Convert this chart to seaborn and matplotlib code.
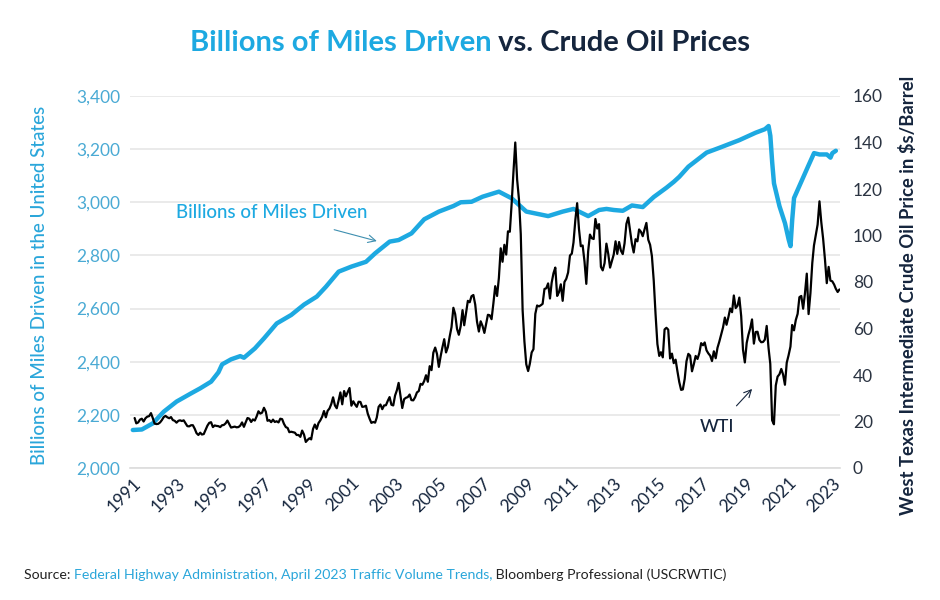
import pandas as pd
import matplotlib.pyplot as plt
import seaborn as sns

# WTI crude, month-end price ($/barrel), Jan 1991 - Apr 2023
wti_1990s = [
    21.5, 19.2, 19.6, 20.8, 21.2, 20.0, 21.4, 22.1, 22.3, 23.6, 21.5, 19.1,
    18.9, 19.0, 19.6, 20.6, 21.9, 22.4, 21.8, 21.4, 21.9, 20.6, 20.3, 19.5,
    20.3, 20.5, 20.2, 20.5, 19.2, 18.0, 17.9, 18.4, 18.4, 16.9, 15.0, 14.2,
    15.2, 14.4, 14.6, 16.4, 18.2, 19.4, 19.7, 17.6, 18.3, 18.1, 18.0, 17.6,
    18.4, 18.5, 19.2, 20.4, 18.9, 17.4, 17.6, 17.8, 17.5, 17.6, 18.2, 19.6,
    17.7, 19.6, 21.5, 21.2, 19.8, 20.9, 20.4, 22.2, 24.4, 23.4, 23.8, 25.9,
    24.2, 20.3, 20.6, 19.7, 20.8, 19.8, 20.1, 19.6, 21.2, 21.0, 19.0, 17.6,
    17.2, 15.4, 15.6, 15.4, 15.2, 14.2, 14.2, 13.4, 16.1, 14.4, 11.2, 12.1,
    12.8, 12.3, 16.8, 18.7, 16.8, 19.3, 20.5, 22.1, 24.5, 21.8, 24.6, 25.6,
]
wti_2000s = [
    27.6, 30.4, 26.9, 25.7, 29.0, 32.5, 27.4, 33.1, 30.8, 32.7, 34.4, 26.8,
    28.7, 27.4, 26.3, 28.5, 28.4, 26.3, 26.4, 26.8, 23.4, 21.2, 19.4, 19.8,
    19.5, 21.7, 26.3, 27.3, 25.3, 26.9, 27.0, 28.9, 30.5, 27.2, 26.9, 31.2,
    33.5, 36.6, 31.0, 25.8, 29.6, 30.2, 30.5, 31.6, 29.2, 29.1, 30.4, 32.5,
    33.1, 36.2, 35.8, 37.4, 39.9, 37.1, 43.8, 42.1, 49.6, 51.8, 49.1, 43.5,
    48.2, 51.8, 55.4, 49.7, 52.0, 56.5, 60.6, 68.9, 66.2, 59.8, 57.3, 61.0,
    67.9, 61.4, 66.6, 71.9, 71.3, 73.9, 74.4, 70.3, 62.9, 58.7, 63.1, 61.1,
    58.1, 61.8, 65.9, 65.7, 64.0, 70.7, 78.2, 74.0, 81.7, 94.5, 88.7, 96.0,
    91.8, 101.8, 101.6, 113.5, 127.4, 140.0, 124.1, 115.5, 100.6, 67.8, 54.4, 44.6,
    41.7, 44.8, 49.7, 51.1, 66.3, 69.9, 69.5, 70.0, 70.6, 77.0, 77.3, 79.4,
]
wti_2010s = [
    72.9, 79.7, 83.8, 86.2, 74.0, 75.6, 79.0, 71.9, 80.0, 81.4, 84.1, 91.4,
    92.2, 97.0, 106.7, 113.9, 102.7, 95.4, 95.7, 88.8, 79.2, 93.2, 100.4, 98.8,
    98.5, 107.1, 103.0, 104.9, 86.5, 85.0, 88.1, 96.5, 92.2, 86.2, 88.9, 91.8,
    97.5, 92.1, 97.2, 93.5, 92.0, 96.6, 105.0, 107.7, 102.3, 96.4, 92.7, 98.4,
    97.5, 102.6, 101.6, 99.7, 102.7, 105.4, 98.2, 96.0, 91.2, 80.5, 66.2, 53.3,
    48.2, 49.8, 47.6, 59.6, 60.3, 59.5, 47.1, 49.2, 45.1, 46.6, 41.7, 37.0,
    33.6, 33.8, 38.3, 45.9, 49.1, 48.3, 41.6, 44.7, 48.2, 46.9, 49.4, 53.7,
    52.8, 54.0, 50.6, 49.3, 48.3, 46.0, 50.2, 47.2, 51.7, 54.4, 57.4, 60.4,
    64.7, 61.6, 64.9, 68.6, 67.0, 74.2, 68.8, 69.8, 73.3, 65.3, 50.9, 45.4,
    53.8, 57.2, 60.1, 63.9, 53.5, 58.5, 58.6, 55.1, 54.1, 54.2, 55.2, 61.1,
]
wti_2020s = [
    51.6, 44.8, 20.5, 18.8, 35.5, 39.3, 40.3, 42.6, 40.2, 35.8, 45.3, 48.5,
    52.2, 61.5, 59.2, 63.6, 66.3, 73.5, 74.0, 68.5, 75.0, 83.6, 66.2, 75.2,
    88.2, 95.7, 100.3, 104.7, 114.7, 105.8, 98.6, 89.6, 79.5, 86.5, 80.6, 80.3,
    78.9, 77.1, 75.7, 76.8,
]

# Moving 12-month total of vehicle miles travelled (billions)
vmt_dates = [
    '1991-01', '1991-06', '1991-12', '1992-06', '1993-01', '1993-09', '1994-02',
    '1994-08', '1994-12', '1995-02', '1995-07', '1995-12', '1996-02', '1996-08',
    '1997-01', '1997-08', '1998-04', '1998-11', '1999-06', '1999-11', '2000-06',
    '2001-01', '2001-09', '2002-02', '2002-10', '2003-03', '2003-10', '2004-05',
    '2005-01', '2005-09', '2006-01', '2006-07', '2007-01', '2007-10', '2008-05',
    '2009-01', '2009-06', '2010-01', '2010-09', '2011-03', '2011-11', '2012-05',
    '2012-09', '2013-01', '2013-06', '2013-11', '2014-05', '2014-11', '2015-06',
    '2015-10', '2016-01', '2016-06', '2016-09', '2017-04', '2017-11', '2018-10',
    '2019-07', '2019-12', '2020-02', '2020-03', '2020-04', '2020-05', '2020-08',
    '2020-11', '2021-01', '2021-02', '2021-03', '2021-04', '2021-08', '2021-12',
    '2022-03', '2022-06', '2022-10', '2022-12', '2023-01', '2023-03',
]
vmt_values = [
    2143, 2145, 2168, 2212, 2250, 2281, 2300,
    2325, 2360, 2390, 2409, 2421, 2415, 2450,
    2488, 2544, 2576, 2615, 2645, 2682, 2739,
    2758, 2776, 2808, 2852, 2858, 2883, 2936,
    2965, 2986, 3000, 3002, 3021, 3040, 3015,
    2965, 2958, 2948, 2965, 2975, 2948, 2971,
    2975, 2971, 2968, 2988, 2982, 3020, 3055,
    3077, 3096, 3134, 3150, 3187, 3205, 3234,
    3262, 3275, 3287, 3250, 3150, 3071, 2985,
    2921, 2860, 2835, 2933, 3016, 3078, 3140,
    3185, 3180, 3180, 3168, 3185, 3194,
]

left_ticks = [2000, 2200, 2400, 2600, 2800, 3000, 3200, 3400]
right_ticks = [0, 20, 40, 60, 80, 100, 120, 140, 160]
year_ticks = list(range(1991, 2024, 2))

BLUE = '#1DA9E1'
NAVY = '#15253D'

wti_values = wti_1990s + wti_2000s + wti_2010s + wti_2020s
wti = pd.DataFrame({
    'date': pd.date_range('1991-01-31', periods=len(wti_values), freq='ME'),
    'price': wti_values,
})
vmt = pd.DataFrame({'date': pd.to_datetime(vmt_dates), 'miles': vmt_values})

sns.set_style('white')
plt.rcParams['font.family'] = ['Lato', 'DejaVu Sans']

fig = plt.figure(figsize=(9.4, 6), dpi=100)
ax = fig.add_axes([0.138, 0.22, 0.756, 0.62])
ax2 = ax.twinx()

sns.lineplot(data=vmt, x='date', y='miles', ax=ax, color=BLUE, linewidth=3.2, zorder=3)
sns.lineplot(data=wti, x='date', y='price', ax=ax2, color='black', linewidth=1.6, zorder=4)

ax.set_xlim(pd.Timestamp('1990-11-10'), pd.Timestamp('2023-05-15'))
ax.set_ylim(2000, 3400)
ax2.set_ylim(0, 160)

ax.set_yticks(left_ticks)
ax.set_yticklabels([f'{v:,}' for v in left_ticks])
ax2.set_yticks(right_ticks)
ax2.set_yticklabels([str(v) for v in right_ticks])
ax.set_xticks([pd.Timestamp(f'{y}-01-01') for y in year_ticks])
ax.set_xticklabels([str(y) for y in year_ticks], rotation=45, ha='right',
                   rotation_mode='anchor')

ax.grid(axis='y', color='#E6E6E6', linewidth=1.2)
ax.set_axisbelow(True)
for a in (ax, ax2):
    for s in a.spines.values():
        s.set_visible(False)
ax.spines['bottom'].set_visible(True)
ax.spines['bottom'].set_color('#DCDCDC')
ax.spines['bottom'].set_linewidth(1.2)

ax.tick_params(axis='y', length=0, labelsize=12.5, labelcolor='#4AAAD4', pad=7)
ax2.tick_params(axis='y', length=0, labelsize=12.5, labelcolor='#2B3442', pad=9)
ax.tick_params(axis='x', direction='in', length=5, color='#DCDCDC',
               labelsize=12.5, labelcolor=NAVY, pad=5)

ax.set_xlabel('')
ax.set_ylabel('Billions of Miles Driven in the United States', color='#2AA6DA',
              fontsize=13.5, fontweight='medium')
ax.yaxis.set_label_coords(-0.115, 0.49)
ax2.set_ylabel('West Texas Intermediate Crude Oil Price in $s/Barrel', color=NAVY,
               fontsize=13.3, fontweight='bold', rotation=90)
ax2.yaxis.set_label_coords(1.083, 0.465)

# series call-outs
ax.annotate('Billions of Miles Driven', xy=(pd.Timestamp('2002-03-01'), 2854),
            xytext=(pd.Timestamp('1997-05-01'), 2960), color=BLUE, fontsize=13.5,
            fontweight='medium', ha='center', va='center',
            arrowprops=dict(arrowstyle='->', color='#3E8FB0', lw=0.8,
                            shrinkA=14, shrinkB=0))
ax2.annotate('WTI', xy=(pd.Timestamp('2019-05-01'), 34),
             xytext=(pd.Timestamp('2017-09-15'), 17.5), color=NAVY, fontsize=13,
             fontweight='medium', ha='center', va='center',
             arrowprops=dict(arrowstyle='->', color=NAVY, lw=0.8,
                             shrinkA=10, shrinkB=0))


def coloured_line(parts, y, size, weight, x=None, center=None):
    texts = [fig.text(0, y, s, color=c, fontsize=size, fontweight=weight, va='center')
             for s, c in parts]
    fig.canvas.draw()
    r = fig.canvas.get_renderer()
    widths = [t.get_window_extent(r).width / fig.bbox.width for t in texts]
    start = x if center is None else center - sum(widths) / 2
    for t, w in zip(texts, widths):
        t.set_x(start)
        start += w


coloured_line([('Billions of Miles Driven', BLUE), (' vs. Crude Oil Prices', NAVY)],
              y=0.928, size=21, weight='bold', center=0.5)
coloured_line([('Source: ', '#222222'),
               ('Federal Highway Administration, April 2023 Traffic Volume Trends,', '#2AA6DA'),
               (' Bloomberg Professional (USCRWTIC)', '#222222')],
              y=0.042, size=10.2, weight='normal', x=0.0255)

fig.savefig('out.png', dpi=100, facecolor='white')
